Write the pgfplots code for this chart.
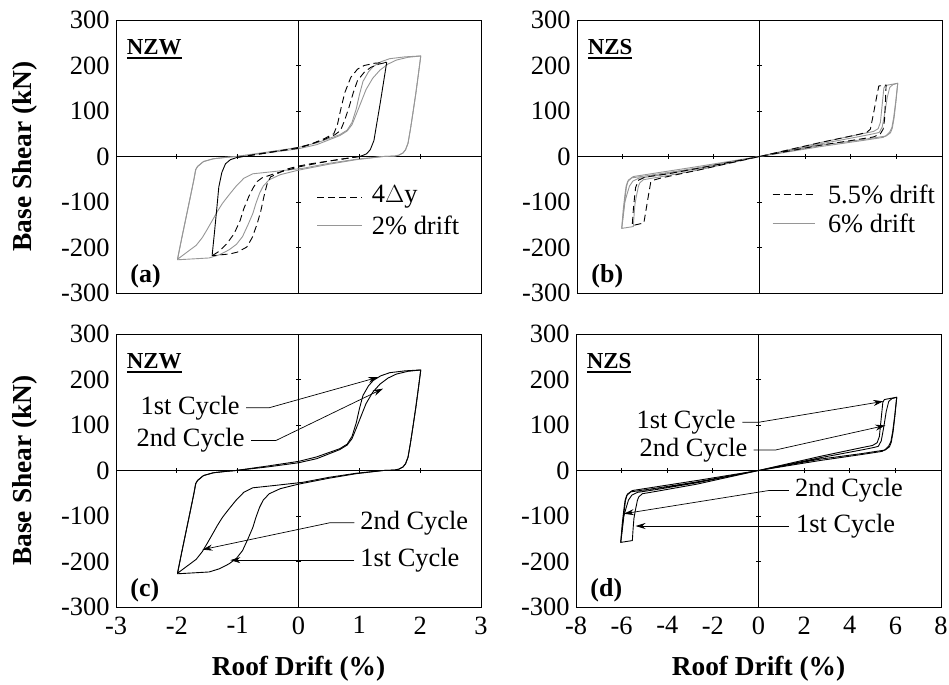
\documentclass[border=0pt]{standalone}
\usepackage{fontspec}
\setmainfont{Liberation Serif}
\usepackage{pgfplots}
\pgfplotsset{compat=1.18}
\usepackage{pgfplotstable}
\usetikzlibrary{arrows.meta}
\definecolor{lightline}{RGB}{150,150,150}

\newcommand{\ulbf}[1]{\setbox0\hbox{\bfseries #1}\rlap{\vrule height -2.5bp depth 5bp width \wd0}\box0}

% NZW, 2% drift, cycle 1 and cycle 2
\pgfplotstableread{
x y
-1.03 0
-0.5 10
0 20
0.3 30
0.68 48
0.80 58
0.88 75
0.95 105
1.00 135
1.06 165
1.15 186
1.23 198
1.35 208
1.5 215
1.75 219
2.01 221
1.97 180
1.93 140
1.88 95
1.84 60
1.80 29
1.76 15
1.72 8
1.65 3
1.58 1
1.39 0
0.95 -7
0.5 -17
0 -30
-0.3 -40
-0.48 -51
-0.58 -65
-0.64 -81
-0.70 -103
-0.75 -125
-0.83 -150
-0.92 -176
-1.02 -193
-1.14 -205
-1.3 -216
-1.47 -223
-1.99 -227
-1.92 -180
-1.85 -135
-1.78 -90
-1.72 -51
-1.69 -29
-1.66 -22
-1.56 -11
-1.40 -5
-1.2 -2
-1.03 0
}\nzwA
\pgfplotstableread{
x y
-1.03 0
-0.5 8
0 17
0.3 26
0.68 46
0.80 56
0.88 70
0.95 93
1.03 120
1.11 147
1.22 172
1.34 190
1.47 203
1.61 212
1.8 218
2.01 221
1.97 180
1.93 140
1.88 95
1.84 60
1.80 29
1.76 15
1.72 8
1.65 3
1.58 1
1.39 0
0.95 -6
0.5 -15
0.07 -26
-0.4 -33
-0.75 -38
-0.9 -48
-1.03 -66
-1.14 -84
-1.25 -103
-1.33 -120
-1.41 -139
-1.5 -160
-1.58 -178
-1.68 -195
-1.80 -207
-1.99 -226
-1.92 -180
-1.85 -135
-1.78 -90
-1.72 -51
-1.69 -29
-1.66 -22
-1.56 -11
-1.40 -5
-1.2 -2
-1.03 0
}\nzwB

% NZW, 4 Delta y: dashed branches
\pgfplotstableread{
x y
-1.01 -2
-0.6 6
-0.2 15
0 20
0.2 27
0.42 39
0.58 50
0.64 70
0.69 101
0.76 140
0.86 174
0.97 192
1.08 200
1.25 205
1.45 207
}\dyUpA
\pgfplotstableread{
x y
-1.01 -2
-0.5 9
0 18
0.4 36
0.6 48
0.69 57
0.76 80
0.83 108
0.9 140
0.97 167
1.08 185
1.19 196
1.32 203
1.45 207
}\dyUpB
\pgfplotstableread{
x y
1.0 0
0.6 -8
0.2 -16
0 -21
-0.2 -28
-0.46 -45
-0.52 -62
-0.57 -89
-0.62 -120
-0.68 -148
-0.76 -178
-0.85 -199
-1.0 -210
-1.12 -214
-1.42 -218
}\dyLoA
\pgfplotstableread{
x y
1.0 0
0.5 -10
0 -23
-0.4 -38
-0.6 -47
-0.68 -55
-0.75 -70
-0.82 -89
-0.9 -115
-0.96 -141
-1.06 -170
-1.18 -192
-1.3 -208
-1.42 -218
}\dyLoB
% steep unloading branches (solid)
\pgfplotstableread{
x y
1.45 207
1.40 165
1.35 123
1.29 75
1.24 35
1.18 15
1.12 6
1.05 2
1.0 0
}\dyUnP
\pgfplotstableread{
x y
-1.42 -218
-1.38 -165
-1.34 -110
-1.31 -67
-1.26 -35
-1.20 -16
-1.12 -7
-1.01 -2
}\dyUnN

% NZS, 6% drift, cycle 1 and 2
\pgfplotstableread{
x y
0 0
2.7 31
4.5 50
5.0 55
5.2 61
5.3 75
5.38 115
5.45 150
5.52 156
6.06 161
5.97 120
5.88 85
5.80 63
5.71 54
5.55 46
5.42 42
4.5 35
2.7 22
0 0
-2.7 -30
-4.5 -46
-5.09 -51
-5.25 -58
-5.31 -66
-5.4 -88
-5.46 -105
-5.5 -130
-5.53 -154
-6.04 -158
-5.95 -115
-5.88 -85
-5.83 -66
-5.75 -52
-5.53 -44
-4.5 -36
-2.7 -22
0 0
}\nzsA
\pgfplotstableread{
x y
0 0
2.7 28
4.5 45
5.0 50
5.25 53
5.38 65
5.49 95
5.6 130
5.71 152
5.85 158
6.06 161
5.98 120
5.9 85
5.82 62
5.74 52
5.55 45
4.5 37
2.7 25
0 0
-2.7 -27
-4.5 -42
-5.3 -48
-5.55 -54
-5.7 -65
-5.82 -85
-5.9 -100
-5.97 -130
-6.04 -158
-5.97 -115
-5.9 -85
-5.85 -66
-5.78 -55
-5.6 -47
-4.5 -39
-2.7 -25
0 0
}\nzsB
% NZS, 5.5% drift
\pgfplotstableread{
x y
0 0
2.7 31
4.3 48
4.7 53
4.86 60
5.0 95
5.15 135
5.23 155
5.55 157
5.52 120
5.48 80
5.42 60
5.3 50
5.0 43
4.0 35
2.7 25
0 0
-2.7 -30
-4.3 -47
-4.65 -52
-4.77 -57
-4.9 -95
-5.07 -146
-5.58 -152
-5.52 -110
-5.43 -68
-5.3 -52
-5.0 -45
-4.0 -38
-2.7 -26
0 0
}\nzsD

\pgfplotsset{
  panel/.style={
    scale only axis, width=365bp, height=273bp,
    ymin=-300, ymax=300,
    ytick={-300,-200,-100,0,100,200,300},
    yticklabels={-300,-200,-100,0,100,200,300},
    major tick length=0pt,
    tick label style={font=\fontsize{26.5}{30}\selectfont},
    yticklabel style={xshift=-3bp},
    xticklabel style={yshift=-6bp},
    axis line style={line width=0.9bp},
    label style={font=\fontsize{27.5}{32}\selectfont\bfseries},
    ylabel style={at={(axis description cs:-0.25,0.5)}, anchor=center},
    xlabel style={at={(axis description cs:0.5,-0.225)}, anchor=center},
    every axis plot/.append style={line width=0.9bp, line join=round},
  },
}
\tikzset{
  dsh/.style={black, dash pattern=on 7bp off 4bp},
  zeroline/.style={black, line width=0.8bp},
  ann/.style={black, line width=0.7bp, -{Stealth[length=10bp,width=6bp]}},
  txt/.style={font=\fontsize{26.5}{30}\selectfont},
}

\begin{document}
\begin{tikzpicture}
\useasboundingbox (0,0) rectangle (949bp,-685bp);

% (a) NZW, 4Dy vs 2% drift
\begin{axis}[panel, at={(116bp,-20bp)}, anchor=north west,
  xmin=-3, xmax=3, xtick=\empty, ylabel={Base Shear (kN)}]
\addplot[zeroline] coordinates {(0,-300)(0,300)};
\addplot[zeroline] coordinates {(-3,0)(3,0)};
\addplot[black, only marks, mark=-, mark size=2.5bp] coordinates {(0,-200)(0,-100)(0,100)(0,200)};
\addplot[black, only marks, mark=|, mark size=2.5bp] coordinates {(-2,0)(-1,0)(1,0)(2,0)};
\addplot[lightline] table {\nzwA};
\addplot[lightline] table {\nzwB};
\addplot[dsh] table {\dyUpA};
\addplot[dsh] table {\dyUpB};
\addplot[dsh] table {\dyLoA};
\addplot[dsh] table {\dyLoB};
\addplot[black] table {\dyUnP};
\addplot[black] table {\dyUnN};
% legend
\addplot[dsh] coordinates {(0.31,-89)(1.05,-89)};
\addplot[lightline] coordinates {(0.31,-152)(1.05,-152)};
\node[txt, anchor=west] at (axis cs:1.15,-89) {4$\Delta$y};
\node[txt, anchor=west] at (axis cs:1.15,-152) {2\% drift};
\node[anchor=base west, font=\fontsize{23}{28}\selectfont] at (axis description cs:0.02,0.875) {\ulbf{NZW}};
\node[anchor=base west, font=\fontsize{26}{30}\selectfont\bfseries] at (axis description cs:0.03,0.04) {(a)};
\end{axis}

% (b) NZS, 5.5% vs 6% drift
\begin{axis}[panel, at={(577bp,-20bp)}, anchor=north west,
  xmin=-8, xmax=8, xtick=\empty]
\addplot[zeroline] coordinates {(0,-300)(0,300)};
\addplot[zeroline] coordinates {(-8,0)(8,0)};
\addplot[black, only marks, mark=-, mark size=2.5bp] coordinates {(0,-200)(0,-100)(0,100)(0,200)};
\addplot[black, only marks, mark=|, mark size=2.5bp] coordinates {(-6,0)(-4,0)(-2,0)(2,0)(4,0)(6,0)};
\addplot[lightline] table {\nzsA};
\addplot[lightline] table {\nzsB};
\addplot[dsh] table {\nzsD};
% legend
\addplot[dsh] coordinates {(0.57,-84)(2.45,-84)};
\addplot[lightline] coordinates {(0.57,-147)(2.45,-147)};
\node[txt, anchor=west] at (axis cs:2.85,-84) {5.5\% drift};
\node[txt, anchor=west] at (axis cs:2.85,-147) {6\% drift};
\node[anchor=base west, font=\fontsize{23}{28}\selectfont] at (axis description cs:0.02,0.875) {\ulbf{NZS}};
\node[anchor=base west, font=\fontsize{26}{30}\selectfont\bfseries] at (axis description cs:0.03,0.04) {(b)};
\end{axis}

% (c) NZW, cycles at 2% drift
\begin{axis}[panel, at={(116bp,-334bp)}, anchor=north west,
  xmin=-3, xmax=3, xtick={-3,-2,-1,0,1,2,3},
  xticklabels={-3,-2,-1,0,1,2,3},
  ylabel={Base Shear (kN)}, xlabel={Roof Drift (\%)}]
\addplot[zeroline] coordinates {(0,-300)(0,300)};
\addplot[zeroline] coordinates {(-3,0)(3,0)};
\addplot[black, only marks, mark=-, mark size=2.5bp] coordinates {(0,-200)(0,-100)(0,100)(0,200)};
\addplot[black, only marks, mark=|, mark size=2.5bp] coordinates {(-2,0)(-1,0)(1,0)(2,0)};
\addplot[black] table {\nzwA};
\addplot[black] table {\nzwB};
\addplot[ann] coordinates {(-0.86,138)(-0.48,138)(1.31,205)};
\addplot[ann] coordinates {(-0.78,66)(-0.37,66)(1.39,180)};
\addplot[ann] coordinates {(0.92,-115)(0.51,-115)(-1.58,-174)};
\addplot[ann] coordinates {(0.92,-197)(-1.12,-197)};
\node[txt, anchor=east] at (axis cs:-0.91,138) {1st Cycle};
\node[txt, anchor=east] at (axis cs:-0.83,66) {2nd Cycle};
\node[txt, anchor=west] at (axis cs:0.96,-115) {2nd Cycle};
\node[txt, anchor=west] at (axis cs:0.96,-197) {1st Cycle};
\node[anchor=base west, font=\fontsize{23}{28}\selectfont] at (axis description cs:0.02,0.875) {\ulbf{NZW}};
\node[anchor=base west, font=\fontsize{26}{30}\selectfont\bfseries] at (axis description cs:0.03,0.04) {(c)};
\end{axis}

% (d) NZS, cycles at 6% drift
\begin{axis}[panel, at={(576bp,-334bp)}, anchor=north west,
  xmin=-8, xmax=8, xtick={-8,-6,-4,-2,0,2,4,6,8},
  xticklabels={-8,-6,-4,-2,0,2,4,6,8},
  xlabel={Roof Drift (\%)}]
\addplot[zeroline] coordinates {(0,-300)(0,300)};
\addplot[zeroline] coordinates {(-8,0)(8,0)};
\addplot[black, only marks, mark=-, mark size=2.5bp] coordinates {(0,-200)(0,-100)(0,100)(0,200)};
\addplot[black, only marks, mark=|, mark size=2.5bp] coordinates {(-6,0)(-4,0)(-2,0)(2,0)(4,0)(6,0)};
\addplot[black] table {\nzsA};
\addplot[black] table {\nzsB};
\addplot[ann] coordinates {(-0.71,106)(0.01,106)(5.47,152)};
\addplot[ann] coordinates {(-0.21,45)(0.74,45)(5.56,99)};
\addplot[ann] coordinates {(1.33,-44)(0.45,-44)(-5.90,-95)};
\addplot[ann] coordinates {(1.33,-122)(-5.39,-122)};
\node[txt, anchor=east] at (axis cs:-0.85,106) {1st Cycle};
\node[txt, anchor=east] at (axis cs:-0.33,45) {2nd Cycle};
\node[txt, anchor=west] at (axis cs:1.45,-44) {2nd Cycle};
\node[txt, anchor=west] at (axis cs:1.5,-122) {1st Cycle};
\node[anchor=base west, font=\fontsize{23}{28}\selectfont] at (axis description cs:0.02,0.875) {\ulbf{NZS}};
\node[anchor=base west, font=\fontsize{26}{30}\selectfont\bfseries] at (axis description cs:0.03,0.04) {(d)};
\end{axis}
\end{tikzpicture}
\end{document}
